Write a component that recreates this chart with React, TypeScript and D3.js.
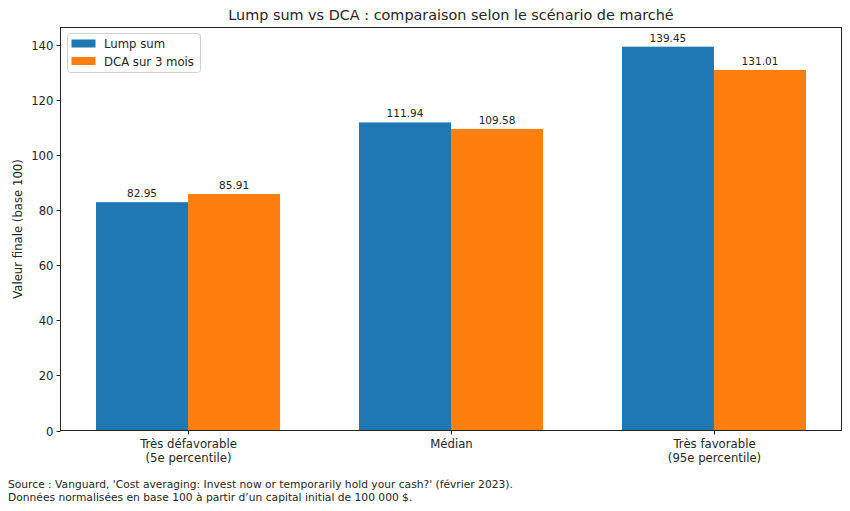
import * as d3 from 'd3';
import React from 'react';

// Final value (base 100) per market scenario, lump sum vs 3-month DCA
const scenarios = ['Très défavorable\n(5e percentile)', 'Médian', 'Très favorable\n(95e percentile)'];
const lumpSum = [82.95, 111.94, 139.45];
const dca = [85.91, 109.58, 131.01];
const seriesNames = ['Lump sum', 'DCA sur 3 mois'];
const seriesColors = ['#1f77b4', '#ff7f0e'];
const yTicks = [0, 20, 40, 60, 80, 100, 120, 140];

const W = 850;
const H = 511;
const m = { left: 60.5, right: 841.5, top: 27.5, bottom: 430.5 };
const font = 'DejaVu Sans, sans-serif';
const ink = '#262626';
const tickSize = 11.7;

export default function App() {
  const barW = 0.35;
  const x = d3.scaleLinear().domain([-0.485, 2.485]).range([m.left, m.right]);
  const yMax = d3.max([...lumpSum, ...dca]) * 1.05;
  const y = d3.scaleLinear().domain([0, yMax]).range([m.bottom, m.top]);
  const series = [lumpSum, dca];

  return (
    <div style={{ margin: -8 }}>
      <svg width={W} height={H} style={{ display: 'block', fontFamily: font }}>
        <rect width={W} height={H} fill="#fff" />
        <text x={(m.left + m.right) / 2} y={20} textAnchor="middle" fontSize={14.4} fill={ink}>
          Lump sum vs DCA : comparaison selon le scénario de marché
        </text>

        {series.map((vals, s) =>
          vals.map((v, i) => {
            const x0 = x(i - barW + s * barW);
            const x1 = x(i + s * barW);
            return (
              <g key={`${s}-${i}`}>
                <rect x={x0} y={y(v)} width={x1 - x0} height={y(0) - y(v)} fill={seriesColors[s]} />
                <text x={(x0 + x1) / 2} y={y(v) - 5} textAnchor="middle" fontSize={10.5} fill={ink}>
                  {v.toFixed(2)}
                </text>
              </g>
            );
          })
        )}

        <rect x={m.left} y={m.top} width={m.right - m.left} height={m.bottom - m.top}
          fill="none" stroke={ink} strokeWidth={1} />

        {yTicks.map(t => (
          <g key={t} transform={`translate(0,${Math.round(y(t)) + 0.5})`}>
            <line x1={m.left - 4} x2={m.left} stroke={ink} />
            <text x={m.left - 7} dy="0.35em" textAnchor="end" fontSize={tickSize} fill={ink}>{t}</text>
          </g>
        ))}

        {scenarios.map((c, i) => (
          <g key={c} transform={`translate(${Math.round(x(i)) + 0.5},${m.bottom})`}>
            <line y1={0} y2={4} stroke={ink} />
            {c.split('\n').map((line, k) => (
              <text key={k} y={17.5 + k * 14} textAnchor="middle" fontSize={tickSize} fill={ink}>{line}</text>
            ))}
          </g>
        ))}

        <text transform={`translate(22,${(m.top + m.bottom) / 2}) rotate(-90)`} textAnchor="middle"
          fontSize={tickSize} fill={ink}>
          Valeur finale (base 100)
        </text>

        <g transform="translate(67.5,33.5)">
          <rect width={133} height={39} rx={3} fill="#fff" fillOpacity={0.8} stroke="#d0d0d0" />
          {seriesNames.map((n, s) => (
            <g key={n} transform={`translate(4,${6 + s * 17.5})`}>
              <rect width={24} height={8} fill={seriesColors[s]} />
              <text x={32.5} y={8.5} fontSize={tickSize} fill={ink}>{n}</text>
            </g>
          ))}
        </g>

        <text x={8} y={488} fontSize={10.7} fill={ink}>
          Source : Vanguard, 'Cost averaging: Invest now or temporarily hold your cash?' (février 2023).
        </text>
        <text x={8} y={500.5} fontSize={10.7} fill={ink}>
          Données normalisées en base 100 à partir d’un capital initial de 100 000 $.
        </text>
      </svg>
    </div>
  );
}
